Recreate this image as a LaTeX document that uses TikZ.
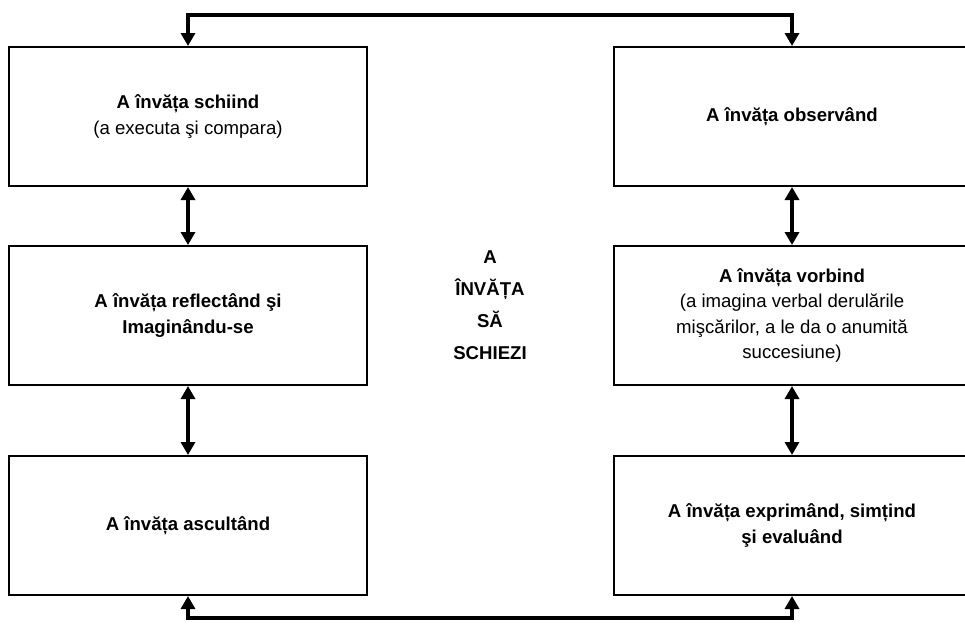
\documentclass[tikz,border=0pt]{standalone}
\usepackage{fontspec}
\setmainfont{Liberation Sans}
\usetikzlibrary{arrows.meta}
\tikzset{
  box/.style={draw, line width=2pt, rectangle, inner sep=0pt, align=center,
    font=\fontsize{18.6}{25.5}\selectfont},
  lbox/.style={box, minimum width=358pt, minimum height=139pt},
  rbox/.style={box, minimum width=356pt, minimum height=139pt},
  link/.style={line width=4.5pt, {Triangle[width=14pt,length=13pt]}-{Triangle[width=14pt,length=13pt]}},
  centre/.style={align=center, font=\fontsize{18.6}{32}\selectfont\bfseries}
}
\begin{document}
\begin{tikzpicture}[x=1pt,y=-1pt]
\useasboundingbox (0,0) rectangle (965,624);
\clip (0,0) rectangle (965,624);
\fill[white] (0,0) rectangle (965,624);
% left column
\node[lbox] (L1) at (188,116.5) {\textbf{A învăța schiind}\\(a executa şi compara)};
\node[lbox] (L2) at (188,315.5) {\textbf{A învăța reflectând şi}\\\textbf{Imaginându-se}};
\node[lbox] (L3) at (188,525.5) {\textbf{A învăța ascultând}};
% right column
\node[rbox] (R1) at (792,116.5) {\textbf{A învăța observând}};
\node[rbox] (R2) at (792,315.5) {\textbf{A învăța vorbind}\\(a imagina verbal derulările\\mişcărilor, a le da o anumită\\succesiune)};
\node[rbox] (R3) at (792,525.5) {\textbf{A învăța exprimând, simțind}\\\textbf{şi evaluând}};
% centre
\node[centre] (C) at (490,305) {A\\ÎNVĂȚA\\SĂ\\SCHIEZI};
% connectors
\coordinate (T) at (490,15);
\coordinate (B) at (490,618);
\draw[link] (L1.north) |- (T) -| (R1.north);
\draw[link] (L3.south) |- (B) -| (R3.south);
\draw[link] (L1.south) -- (L2.north);
\draw[link] (L2.south) -- (L3.north);
\draw[link] (R1.south) -- (R2.north);
\draw[link] (R2.south) -- (R3.north);
\end{tikzpicture}
\end{document}
